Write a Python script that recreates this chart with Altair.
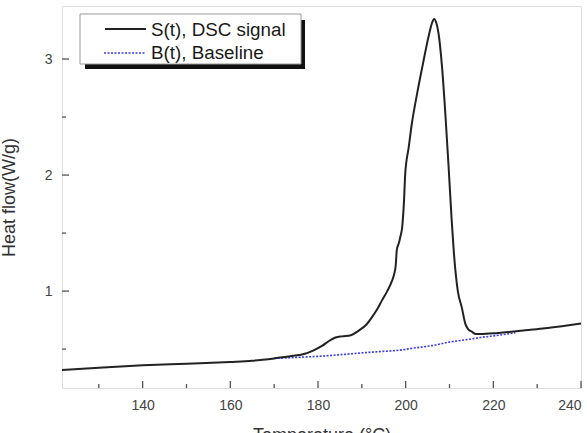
import altair as alt
import pandas as pd

# DSC signal S(t)
sig_temp = [121.6, 130, 140, 150, 160, 165, 170, 174, 177, 179, 181, 182.5, 184, 185.5,
            187.5, 189.3, 191, 192.4, 193.6, 194.6, 195.8, 196.9, 197.4, 197.7, 198.0,
            198.5, 198.8, 199.2, 199.6, 199.9, 200.7, 201.4, 202.6, 204.1, 205.2, 206.0,
            206.5, 207.0, 207.5, 208.3, 209.1, 209.8, 210.5, 211.0, 211.9, 212.8, 213.6,
            214.3, 215.1, 216.0, 217.0, 219.0, 221.2, 224.1, 228.0, 231.8, 236.0, 240.0]
sig_val = [0.32, 0.34, 0.36, 0.375, 0.39, 0.40, 0.42, 0.44, 0.46, 0.49, 0.53, 0.57, 0.60, 0.61,
           0.62, 0.66, 0.71, 0.78, 0.85, 0.92, 1.00, 1.09, 1.15, 1.21, 1.36,
           1.42, 1.47, 1.55, 1.76, 2.01, 2.24, 2.44, 2.70, 2.99, 3.19, 3.31,
           3.345, 3.31, 3.22, 2.93, 2.50, 2.07, 1.61, 1.33, 1.00, 0.86, 0.72,
           0.67, 0.65, 0.63, 0.63, 0.635, 0.64, 0.65, 0.665, 0.68, 0.70, 0.72]

# Baseline B(t)
base_temp = [170, 175.7, 181, 186, 190.8, 194.5, 198.4, 202, 206.0, 209.8, 213.6, 217.0, 221.2, 225.0]
base_val = [0.42, 0.43, 0.44, 0.455, 0.47, 0.48, 0.49, 0.51, 0.53, 0.56, 0.58, 0.60, 0.62, 0.64]

x_major = [140, 160, 180, 200, 220, 240]
x_minor = [130, 150, 170, 190, 210, 230]
y_major = [1, 2, 3]
y_minor = [0.5, 1.5, 2.5]

legend_labels = ["S(t), DSC signal", "B(t), Baseline"]

X_DOM = [121.6, 240]
Y_DOM = [0.165, 3.457]
W, H = 519, 382
FONT = "Liberation Sans"
AXIS_COLOR = "#555555"

sig_df = pd.DataFrame({"T": sig_temp, "v": sig_val})
base_df = pd.DataFrame({"T": base_temp, "v": base_val})

xs = alt.Scale(domain=X_DOM, nice=False, zero=False)
ys = alt.Scale(domain=Y_DOM, nice=False, zero=False)

x_axis = alt.Axis(values=x_major, format="d", ticks=False, grid=False, domain=False,
                  labelFont=FONT, labelFontSize=14, labelColor="#444444", labelPadding=10,
                  title="Temperature (°C)", titleFont=FONT, titleFontSize=18,
                  titleFontWeight="normal", titleColor="#333333", titlePadding=14)
y_axis = alt.Axis(values=y_major, format="d", ticks=False, grid=False, domain=False,
                  labelFont=FONT, labelFontSize=14, labelColor="#444444", labelPadding=10,
                  title="Heat flow(W/g)", titleFont=FONT, titleFontSize=18,
                  titleFontWeight="normal", titleColor="#333333", titlePadding=26)

signal = alt.Chart(sig_df).mark_line(color="#222222", strokeWidth=2, interpolate="monotone").encode(
    x=alt.X("T:Q", scale=xs, axis=x_axis),
    y=alt.Y("v:Q", scale=ys, axis=y_axis),
)
baseline = alt.Chart(base_df).mark_line(color="#3a3aee", strokeWidth=1.6, strokeDash=[2, 1.5],
                                        interpolate="monotone").encode(
    x=alt.X("T:Q", scale=xs),
    y=alt.Y("v:Q", scale=ys),
)

# inward tick marks on the bottom and left axes
xt_major = alt.Chart(pd.DataFrame({"t": x_major})).mark_rule(color=AXIS_COLOR, strokeWidth=1.3).encode(
    x=alt.X("t:Q", scale=xs), y=alt.value(H), y2=alt.value(H - 7))
xt_minor = alt.Chart(pd.DataFrame({"t": x_minor})).mark_rule(color=AXIS_COLOR, strokeWidth=1.3).encode(
    x=alt.X("t:Q", scale=xs), y=alt.value(H), y2=alt.value(H - 4))
yt_major = alt.Chart(pd.DataFrame({"t": y_major})).mark_rule(color=AXIS_COLOR, strokeWidth=1.3).encode(
    y=alt.Y("t:Q", scale=ys), x=alt.value(0), x2=alt.value(7))
yt_minor = alt.Chart(pd.DataFrame({"t": y_minor})).mark_rule(color=AXIS_COLOR, strokeWidth=1.3).encode(
    y=alt.Y("t:Q", scale=ys), x=alt.value(0), x2=alt.value(4))

# legend box with drop shadow
shadow = alt.Chart(pd.DataFrame({"a": [0]})).mark_rect(color="#111111").encode(
    x=alt.value(23), x2=alt.value(243), y=alt.value(14), y2=alt.value(63))
box = alt.Chart(pd.DataFrame({"a": [0]})).mark_rect(fill="white", stroke="#999999", strokeWidth=1).encode(
    x=alt.value(18), x2=alt.value(239), y=alt.value(8), y2=alt.value(58))
leg_solid = alt.Chart(pd.DataFrame({"a": [0]})).mark_rule(color="#222222", strokeWidth=2).encode(
    x=alt.value(43), x2=alt.value(84), y=alt.value(23))
leg_dot = alt.Chart(pd.DataFrame({"a": [0]})).mark_rule(color="#3a3aee", strokeWidth=1.6, strokeDash=[2, 1.5]).encode(
    x=alt.value(42), x2=alt.value(84), y=alt.value(47))
leg_t1 = alt.Chart(pd.DataFrame({"s": [legend_labels[0]]})).mark_text(
    font=FONT, fontSize=18.8, color="#1a1a1a", align="left", baseline="middle").encode(
    text="s:N", x=alt.value(89), y=alt.value(24))
leg_t2 = alt.Chart(pd.DataFrame({"s": [legend_labels[1]]})).mark_text(
    font=FONT, fontSize=18.8, color="#1a1a1a", align="left", baseline="middle").encode(
    text="s:N", x=alt.value(89), y=alt.value(47))

chart = alt.layer(
    baseline, signal, xt_major, xt_minor, yt_major, yt_minor,
    shadow, box, leg_solid, leg_dot, leg_t1, leg_t2,
).properties(
    width=W, height=H,
    padding={"left": 62, "top": 6, "right": 6, "bottom": 45},
    autosize=alt.AutoSizeParams(type="none"),
).configure_view(
    stroke="#555555", strokeWidth=1.5,
).configure(background="white")

chart.save("out.html", embed_options={"renderer": "svg", "actions": False})
